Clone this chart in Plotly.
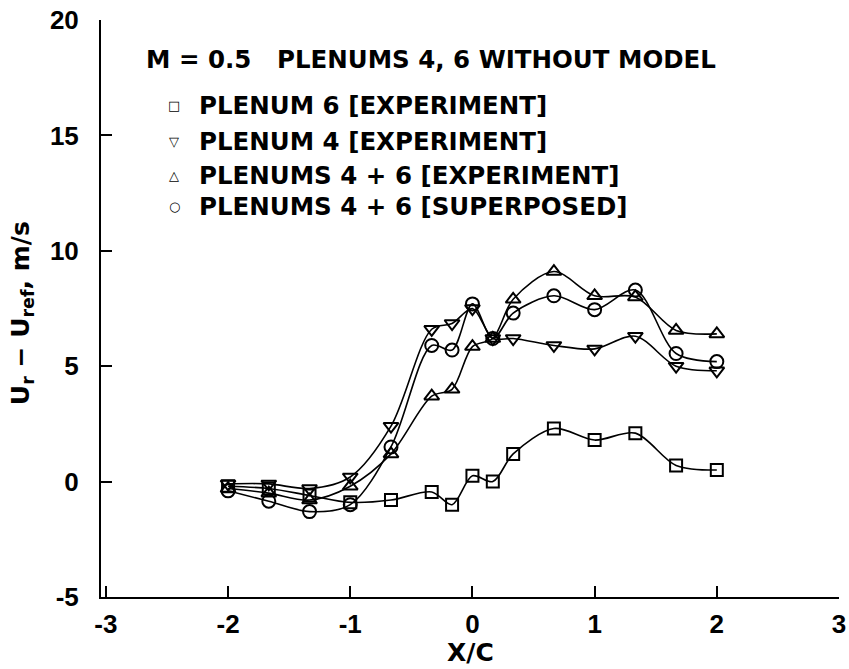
import plotly.graph_objects as go

# Station positions along the test section (X/C)
x_c = [-2, -5/3, -4/3, -1, -2/3, -1/3, -1/6, 0, 1/6, 1/3, 2/3, 1, 4/3, 5/3, 2]

# Velocity increment U_r - U_ref (m/s)
plenum6_exp = [-0.2, -0.3, -0.6, -0.9, -0.8, -0.45, -1.0, 0.25, 0.0, 1.2, 2.3, 1.8, 2.1, 0.7, 0.5]
plenum4_exp = [-0.1, -0.1, -0.3, 0.2, 2.4, 6.6, 6.85, 7.5, 6.2, 6.2, 5.9, 5.75, 6.3, 5.0, 4.8]
plenum46_exp = [-0.3, -0.5, -0.8, -0.2, 1.2, 3.7, 4.0, 5.85, 6.2, 7.9, 9.1, 8.05, 8.0, 6.55, 6.4]
plenum46_sup = [-0.4, -0.85, -1.3, -1.0, 1.5, 5.9, 5.7, 7.7, 6.2, 7.3, 8.05, 7.45, 8.3, 5.55, 5.2]

series_names = [
    "PLENUM 6 [EXPERIMENT]",
    "PLENUM 4 [EXPERIMENT]",
    "PLENUMS 4 + 6 [EXPERIMENT]",
    "PLENUMS 4 + 6 [SUPERPOSED]",
]
series_values = [plenum6_exp, plenum4_exp, plenum46_exp, plenum46_sup]
symbols = ["square-open", "triangle-down-open", "triangle-up-open", "circle-open"]
marker_sizes = [12, 13, 13, 13]
key_glyphs = ["□", "▽", "△", "○"]
key_title = "M = 0.5   PLENUMS 4, 6 WITHOUT MODEL"

x_ticks = [-3, -2, -1, 0, 1, 2, 3]
y_ticks = [-5, 0, 5, 10, 15, 20]

TICK_FONT = dict(family="Liberation Sans", size=26, color="black", weight="bold")
TEXT_FONT = dict(family="DejaVu Sans", size=24.5, color="black", weight="bold")

fig = go.Figure()
for name, vals, sym, ms in zip(series_names, series_values, symbols, marker_sizes):
    fig.add_trace(go.Scatter(
        x=x_c, y=vals, name=name, mode="lines+markers",
        line=dict(color="black", width=1.6, shape="spline", smoothing=0.9),
        marker=dict(symbol=sym, size=ms, color="black", line=dict(color="black", width=2)),
        showlegend=False,
    ))

# Key block in the upper left of the plot
fig.add_annotation(
    xref="paper", yref="paper", x=0.058, y=0.931, xanchor="left", yanchor="middle",
    text=key_title, showarrow=False, font=TEXT_FONT,
)
key_rows = [0.851, 0.790, 0.731, 0.676]
for glyph, name, ky in zip(key_glyphs, series_names, key_rows):
    fig.add_annotation(
        xref="paper", yref="paper", x=0.099, y=ky, xanchor="center", yanchor="middle",
        text=glyph, showarrow=False,
        font=dict(family="DejaVu Sans", size=13, color="black"),
    )
    fig.add_annotation(
        xref="paper", yref="paper", x=0.130, y=ky, xanchor="left", yanchor="middle",
        text=name, showarrow=False, font=TEXT_FONT,
    )

# Axis titles
fig.add_annotation(
    xref="paper", yref="paper", x=-0.107, y=0.492, xanchor="center", yanchor="middle",
    text="U<sub>r</sub> − U<sub>ref</sub>, m/s", textangle=-90, showarrow=False,
    font=dict(family="DejaVu Sans", size=25, color="black", weight="bold"),
)
fig.add_annotation(
    xref="paper", yref="paper", x=0.500, y=-0.097, xanchor="center", yanchor="middle",
    text="X/C", showarrow=False,
    font=dict(family="DejaVu Sans", size=25, color="black", weight="bold"),
)

axis_common = dict(
    showline=True, linewidth=2, linecolor="black", mirror=False,
    ticks="inside", ticklen=11, tickwidth=2, tickcolor="black",
    showgrid=False, zeroline=False, tickfont=TICK_FONT,
)

fig.update_layout(
    width=849, height=669,
    margin=dict(l=101, r=10, t=20, b=72),
    plot_bgcolor="white", paper_bgcolor="white",
    showlegend=False,
    xaxis=dict(
        range=[-3.04, 3.0], tickvals=x_ticks, ticktext=[str(v) for v in x_ticks],
        ticklabelstandoff=3, automargin=False, **axis_common,
    ),
    yaxis=dict(
        range=[-5, 20], tickvals=y_ticks, ticktext=[str(v) for v in y_ticks],
        ticklabelstandoff=15, automargin=False, **axis_common,
    ),
)

fig.write_html("out.html")
